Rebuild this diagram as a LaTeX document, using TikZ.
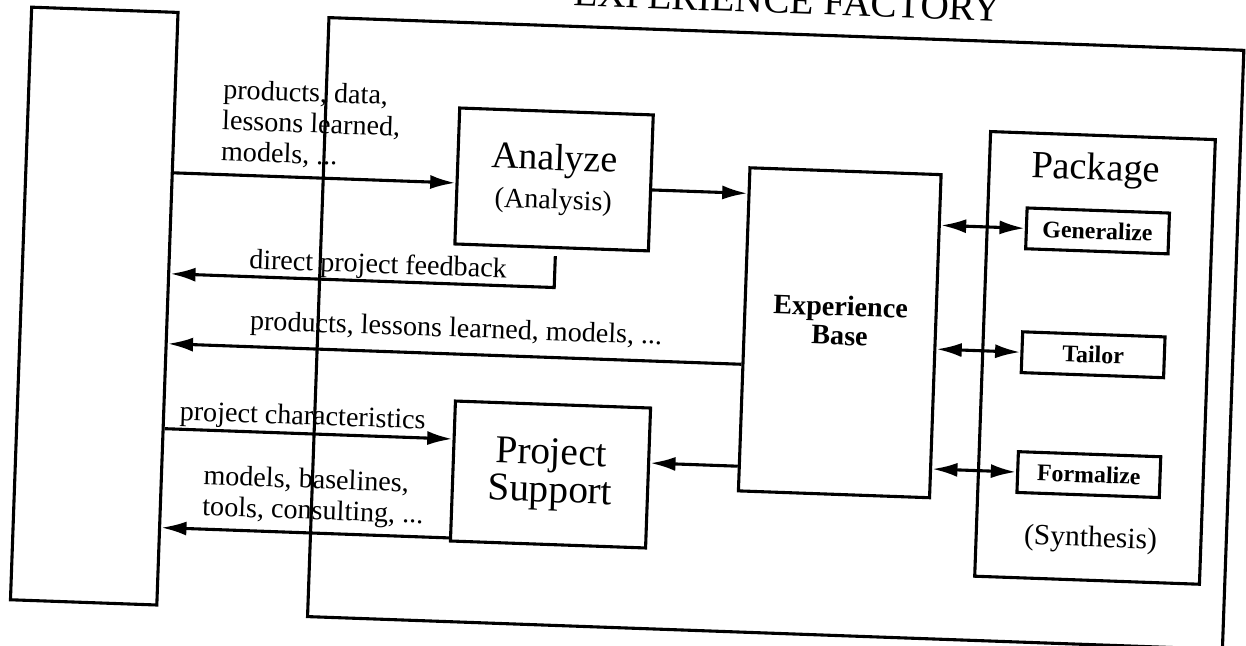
\documentclass[tikz,border=0pt]{standalone}
\usepackage{fontspec}
\setmainfont{Liberation Serif}
\usetikzlibrary{arrows.meta,calc,positioning}
\tikzstyle{box}=[draw, line width=1.1pt, align=center, inner sep=2pt]
\tikzstyle{opbox}=[box, minimum width=1.78cm, minimum height=0.51cm, font=\bfseries\fontsize{8.5}{9}\selectfont]
\tikzstyle{lbl}=[align=left, inner sep=0pt, font=\fontsize{10}{11}\selectfont]
\tikzstyle{flow}=[line width=1.1pt, -{Latex[length=9pt,width=5pt]}]
\tikzstyle{both}=[line width=1.1pt, {Latex[length=9pt,width=5pt]}-{Latex[length=9pt,width=5pt]}]

\begin{document}
\begin{tikzpicture}[x=0.0125cm, y=-0.0125cm]
  \useasboundingbox (0,0) rectangle (1246,645);
  \fill[white] (0,0) rectangle (1246,645);
  \clip (0,0) rectangle (1246,645);
  \begin{scope}[transform canvas={rotate around={-2.05:(623,322)}}]
  % project organization and experience factory
  \node[box, minimum width=1.83cm, minimum height=7.41cm] (org) at (94,325) {};
  \node[box, minimum width=11.44cm, minimum height=7.49cm] (ef) at (776,328) {};
  \node[anchor=base, font=\fontsize{14}{15}\selectfont]
    (title) at ($(ef.north)+(0,-19)$) {EXPERIENCE FACTORY};
  % rows of the connectors
  \coordinate (row1) at (0,189);
  \coordinate (row2) at (0,290);
  \coordinate (row3) at (0,360);
  \coordinate (row4) at (0,445);
  \coordinate (row5) at (0,462);
  \coordinate (row6) at (0,544);
  % analyze, project support, experience base
  \node[box, minimum width=2.42cm, minimum height=1.7cm, font=\fontsize{13.5}{13.8}\selectfont]
    (analyze) at (549,182) {Analyze\\{\fontsize{10}{12}\selectfont (Analysis)}};
  \node[box, minimum width=2.44cm, minimum height=1.75cm, font=\fontsize{14}{13.4}\selectfont]
    (support) at (556,477) {Project\\Support};
  \node[box, minimum width=2.39cm, minimum height=4.04cm] (base) at (840,325) {};
  \node[align=center, font=\bfseries\fontsize{10}{10.4}\selectfont]
    (basename) at ($(base.center)+(0,-12)$) {Experience\\Base};
  % package
  \node[box, minimum width=2.81cm, minimum height=5.56cm] (package) at (1096,341) {};
  \node[anchor=base, font=\fontsize{13.7}{14}\selectfont] (pkgname) at (1090,163) {Package};
  \node[anchor=base, font=\fontsize{10.5}{12}\selectfont] (synth) at (1098,530) {(Synthesis)};
  \node[opbox] (gen) at (1094,214) {Generalize};
  \node[opbox, below=1cm of gen] (tailor) {Tailor};
  \node[opbox, below=0.95cm of tailor] (formal) {Formalize};
  % lines
  \draw[flow] (org.east |- row1) -- (analyze.west |- row1);
  \draw[flow] (analyze.east |- row1) -- (base.west |- row1);
  \coordinate (fb) at ($(analyze.south)+(4,7)$);
  \draw[flow] (fb) |- (org.east |- row2);
  \draw[flow] (base.west |- row3) -- (org.east |- row3);
  \draw[flow] (org.east |- row4) -- (support.west |- row4);
  \draw[flow] (base.west |- row5) -- (support.east |- row5);
  \draw[flow] (support.west |- row6) -- (org.east |- row6);
  \foreach \op in {gen,tailor,formal}
    \draw[both] (base.east |- \op.west) -- (\op.west);
  % labels
  \node[lbl, anchor=south west] (datalbl) at ($(org.east |- row1)+(46,-9)$)
    {products, data,\\lessons learned,\\models, ...};
  \node[lbl, anchor=base west] (fblbl) at ($(org.east |- row2)+(78,-8)$) {direct project feedback};
  \node[lbl, anchor=base west] (explbl) at ($(org.east |- row3)+(81,-17)$)
    {products, lessons learned, models, ...};
  \node[lbl, anchor=base west] (charlbl) at ($(org.east |- row4)+(14,-9)$) {project characteristics};
  \node[lbl, anchor=south west] (suplbl) at ($(org.east |- row6)+(40,-7)$)
    {models, baselines,\\tools, consulting, ...};
  \end{scope}
\end{tikzpicture}
\end{document}
